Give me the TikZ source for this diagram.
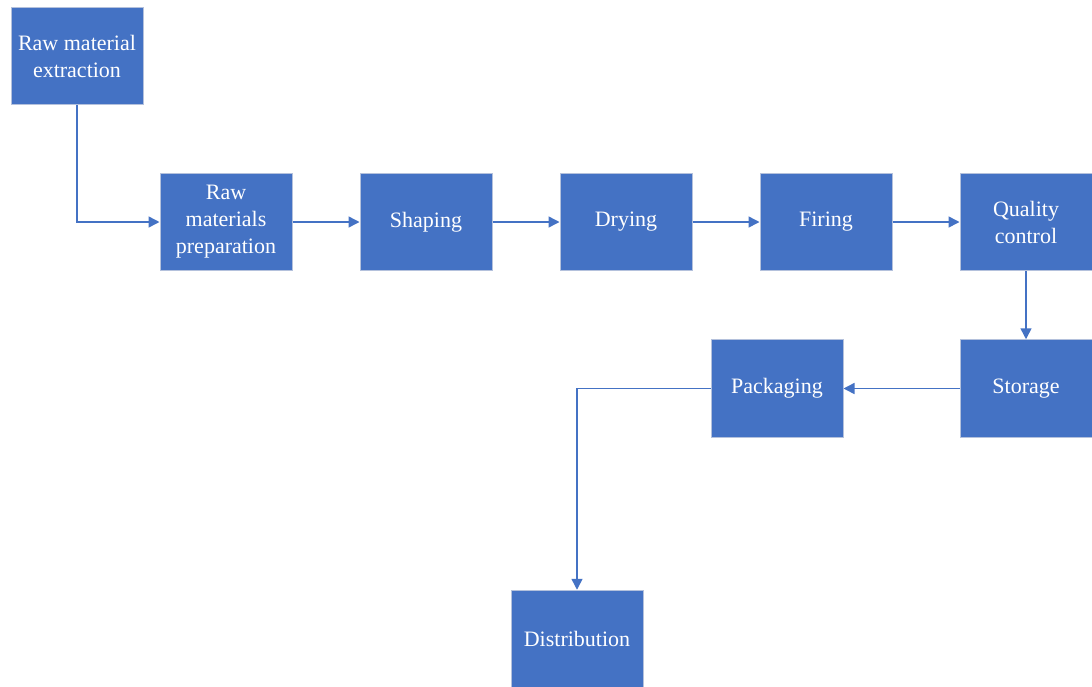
\documentclass[tikz,border=0pt]{standalone}
\usepackage{fontspec}
\setmainfont{Liberation Serif}
\usepackage{xcolor}
\usetikzlibrary{positioning,arrows.meta}
\definecolor{boxblue}{HTML}{4472C4}
\definecolor{boxedge}{HTML}{B4C1DC}

\begin{document}
\begin{tikzpicture}[x=1pt, y=-1pt, node distance=67pt,
  stage/.style={draw=boxedge, fill=boxblue, line width=1pt, text=white, align=center, inner sep=2pt,
    minimum width=132pt, minimum height=97.5pt, font=\fontsize{22}{27}\selectfont},
  arr/.style={draw=boxblue, line width=1.5pt, -{Triangle[length=11pt, width=11pt]}}]
\useasboundingbox (0,0) rectangle (1092,686);
\node[stage] (extract) at (77,56) {Raw material\\extraction};
\node[stage] (prep) at (226,222) {Raw\\materials\\preparation};
\node[stage, right=of prep] (shape) {Shaping};
\node[stage, right=of shape] (dry) {Drying};
\node[stage, right=of dry] (fire) {Firing};
\node[stage, right=of fire] (qc) {Quality\\control};
\node[stage, below=68pt of qc] (store) {Storage};
\node[stage, left=116pt of store] (pack) {Packaging};
\node[stage] (dist) at (577,639) {Distribution};
\draw[arr] (extract.south) |- (prep.west);
\draw[arr] (prep) -- (shape);
\draw[arr] (shape) -- (dry);
\draw[arr] (dry) -- (fire);
\draw[arr] (fire) -- (qc);
\draw[arr] (qc) -- (store);
\draw[arr] (store) -- (pack);
\draw[arr] (pack.west) -| (dist.north);
\end{tikzpicture}
\end{document}
